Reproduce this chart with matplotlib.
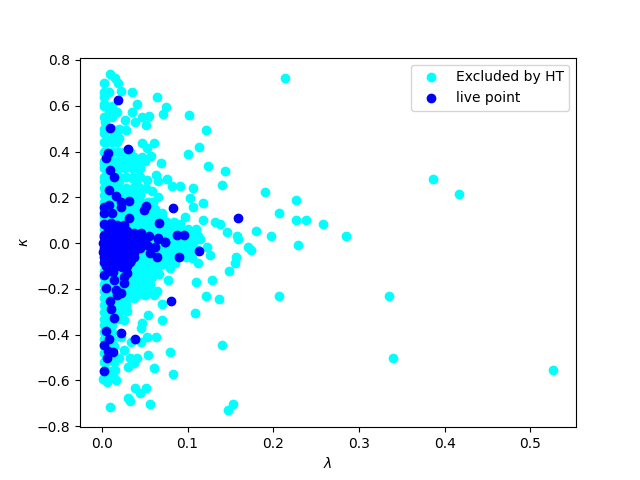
import matplotlib.pyplot as plt

# values
ht_x = [.0096, .0154, .0027, .0189, .0228, .0351, .0640, .0027, .0027, .0409, .0745, .0351, .0710, .1022, .0085, .0181,
        .0552, .0467, .0270, .0386, .0513, .0035, .0282, .1219, .0027, .0143, .0201, .0085, .0467, .0606, .1138, .0529,
        .1011, .0571, .0467, .0374, .0258, .0687, .1242, .0432, .1439, .0027, .0201, .0355, .0633, .0756, .0525, .0652,
        .1404, .0814, .0907, .1069, .0583, .0652, .1034, .1184, .1069, .0702, .0965, .1184, .1319, .1381, .1462, .1578,
        .1802, .1100, .0915,
        .214, .190, .207, .226, .227, .238, .258, .285, .197, .229, .207, .335, .340, .527, .386, .417,
        .159, .1705, .1744, .1562, .1551, .1485, .1289, .1103, .0768, .1219, .137, .1092, .1404, .0702, .0536, .0471,
        .0451, .0702, .0529, .0633, .0791, .0536, .0606, .0826, .0258, .0328, .0413, .0305, .0374, .0201, .0154, .0162,
        .0058, .0008, .0386, .0513, .0444, .0305, .0328, .0559, .0096, .1532, .1474, .0297, .0258, .0220, .0336, .0451,
        .0509, .0606, .0490, .0664, .0586, .0297, .0413, .0432, .0529, .0799, .0856, .1049, .1127, .1262, .1223, .1146]
ht_y = [.737, .720, .701, .698, .666, .659, .637, .640, .606, .606, .593, .571, .562, .558, .574, .571,
        .554, .549, .536, .528, .514, .530, .493, .493, .479, .479, .458, .450, .436, .436, .418, .414,
        .388, .379, .375, .375, .363, .348, .335, .322, .313, .348, .326, .283, .296, .278, .274, .270,
        .252, .248, .248, .239, .226, .203, .195, .177, .156, .130, .112, .101, .093, .082, .047, .032,
        .051, .060, .085,
        .72, .225, .13, .19, .10, .10, .085, .03, .03, -.01, -.23, -.23, -.50, -.555, .28, .215,
        .020, -.016, -.031, -.060, -.086, -.122, -.162, -.168, -.162, -.229, -.246, -.307, -.447, -.334, -.316, -.351,
        -.373, -.268, -.409, -.412, -.474, -.491, -.544, -.570, -.469, -.504, -.504, -.541, -.526, -.504, -.555, -.599,
        -.609, -.592, -.635, -.635, -.653, -.675, -.692, -.705, -.718, -.701, -.731, -.297, -.334, -.409, -.431, -.431,
        -.227, -.227, -.181, -.133, -.147, -.235, -.227, -.111, -.111, -.111, -.089, -.067, -.089, -.052, -.016, .020]

# dense cyan region, one row of lambda values per kappa level
band_y = [.66, .60, .55, .50, .44, .40, .36, .33, .29, .27, .24, .21, .18, .15, .12, .09, .06, .03, .00,
          -.03, -.06, -.09, -.12, -.15, -.18, -.21, -.24, -.27, -.30, -.33, -.36, -.39, -.42, -.45, -.48, -.52, -.56, -.59]
band_x = [[.002, .008], [.002, .005, .012], [.002, .006, .012], [.002, .005, .012, .020], [.002, .005, .012, .018],
          [.002, .005, .012, .019, .026, .033], [.002, .005, .012, .019, .032, .040, .050], [.002, .005, .012, .019, .027, .035, .045],
          [.002, .006, .013, .020, .028, .036, .044], [.002, .005, .012, .020, .040], [.002, .005, .012, .020, .028, .036, .044, .052],
          [.002, .006, .013, .021, .029, .037, .045], [.002, .005, .012, .020, .030, .038, .046, .054, .060],
          [.002, .005, .012, .021, .029, .037, .045, .055, .062], [.002, .006, .014, .022, .030, .038, .046, .054, .062, .070],
          [.002, .005, .012, .020, .028, .036, .044, .052, .060, .068, .076, .084],
          [.002, .028, .036, .044, .052, .060, .068, .076, .084, .092, .100],
          [.002, .048, .056, .064, .072, .080, .088, .096, .104, .112], [.002, .050, .058, .066, .074, .082, .090, .098, .106],
          [.002, .048, .056, .064, .072, .080, .088, .096, .104, .112], [.002, .042, .050, .058, .066, .074, .082, .090, .098],
          [.002, .038, .046, .054, .062, .070, .078], [.002, .006, .014, .022, .032, .040, .048, .056, .064],
          [.002, .006, .014, .022, .032, .040, .048, .056], [.002, .006, .014, .022, .030, .038, .046, .056],
          [.002, .006, .014, .022, .030, .038, .046, .054, .064], [.002, .006, .014, .022, .030, .038],
          [.002, .005, .012, .020, .028], [.002, .005, .012, .020], [.002, .005, .012, .020], [.002, .005, .012],
          [.002, .005, .012], [.002, .005, .012], [.002, .005, .014], [.002, .005, .012], [.002, .005, .014],
          [.002, .006, .012], [.002, .008, .014]]

live_x = [.0189, .0096, .0305, .0066, .0050, .0096, .0143, .0085, .0166, .0228, .0228, .0316, .0517, .0490, .0826, .1590,
          .0027, .0085, .0027, .0116, .0316, .0664, .0027, .0104, .0181, .0258, .0027, .0104, .0201, .0278, .0374, .0459,
          .0548, .0652, .0740, .0876, .0953, .0652, .0733, .1138, .0617, .0567, .0644, .0895, .0529, .0490,
          .0027, .0066, .0135, .0297, .0258, .0143, .0258, .0050, .0162, .0228, .0174, .0096, .0112, .0143, .0050, .0228,
          .0085, .0386, .0027, .0066, .0127, .0058, .0027, .0806, .0336,
          # blob around the origin
          .002, .008, .014, .020, .026, .032, .038, .044, .001, .007, .013, .019, .025, .031, .037, .043, .002, .008, .014, .020,
          .026, .032, .038, .044, .001, .007, .013, .019, .025, .031, .037, .002, .008, .014, .020, .026, .032, .038, .003, .009,
          .015, .021, .027, .033, .005, .011, .017, .023, .029, .007, .013, .019, .025, .011, .017, .023, .029]
live_y = [.624, .501, .409, .392, .370, .318, .287, .230, .204, .178, .159, .182, .163, .143, .152, .108,
          .159, .166, .130, .130, .108, .086, .082, .086, .079, .079, .035, .050, .042, .050, .045, .045,
          .031, .023, .006, .034, .034, .017, .003, -.035, -.016, -.045, -.060, -.060, -.009, .020,
          -.140, -.122, -.128, -.130, -.147, -.162, -.176, -.198, -.205, -.216, -.227, -.254, -.286, -.329, -.383, -.395,
          -.417, -.421, -.446, -.472, -.478, -.504, -.557, -.255, -.074,
          .025, .030, .022, .028, .024, .030, .020, .026, .000, .005, -.002, .004, .000, .006, -.004, .002, -.020, -.022, -.018, -.024,
          -.020, -.018, -.022, -.020, -.040, -.044, -.038, -.046, -.042, -.040, -.044, -.062, -.066, -.060, -.068, -.064, -.062, -.060,
          -.082, -.086, -.080, -.088, -.084, -.082, -.100, -.104, -.098, -.106, -.102, .060, .062, .058, .064, .045, .050, .048, .052]

for y, xs in zip(band_y, band_x):
    for x in xs:
        ht_x.append(x)
        ht_y.append(y)

plt.scatter(ht_x, ht_y, color='cyan', label='Excluded by HT')
plt.scatter(live_x, live_y, color='blue', label='live point')
plt.xlabel(r'$\lambda$')
plt.ylabel(r'$\kappa$')
plt.legend(loc='upper right')
plt.savefig('out.png', dpi=100)
